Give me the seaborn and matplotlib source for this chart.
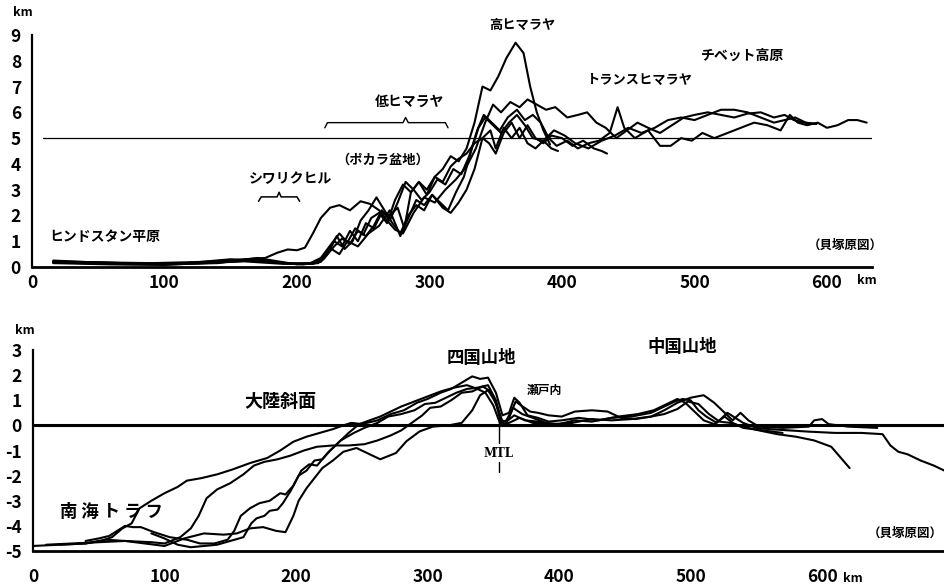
import matplotlib
matplotlib.use("Agg")
import matplotlib.pyplot as plt
import pandas as pd
import seaborn as sns

# Himalaya cross-sections (distance km, elevation km)
himalaya_a = [(16, 0.2), (50, 0.18), (90, 0.12), (130, 0.15), (160, 0.22), (190, 0.12), (210, 0.15),
              (218, 0.35), (226, 0.9), (232, 1.3), (238, 0.95), (244, 1.5), (250, 1.25), (256, 1.9),
              (262, 2.1), (268, 1.7), (274, 2.6), (280, 3.2), (286, 2.9), (292, 3.3), (298, 2.8),
              (304, 3.5), (310, 3.8), (316, 4.3), (322, 4.1), (328, 4.6), (334, 5.6), (340, 7.0),
              (346, 6.85), (352, 7.4), (358, 8.1), (365, 8.7), (371, 8.3), (376, 7.0), (381, 6.0),
              (386, 5.3), (391, 4.75)]
himalaya_b = [(16, 0.22), (50, 0.18), (90, 0.15), (130, 0.2), (160, 0.3), (176, 0.35), (185, 0.55),
              (193, 0.68), (200, 0.65), (206, 0.75), (212, 1.3), (218, 1.9), (225, 2.3), (232, 2.4),
              (240, 2.2), (248, 2.55), (255, 2.45), (262, 2.2), (268, 1.8), (274, 1.45), (280, 1.3),
              (288, 2.1), (296, 2.7), (304, 2.5), (312, 3.0), (320, 3.4), (328, 3.9), (335, 4.6),
              (342, 5.6), (348, 6.3), (354, 6.0), (361, 6.4), (368, 6.2), (374, 6.5), (381, 6.3),
              (388, 6.1), (395, 6.2), (404, 5.8), (412, 5.9), (419, 6.0), (426, 5.6), (433, 5.4),
              (441, 5.0), (449, 5.3), (457, 5.6), (465, 5.4), (474, 5.2), (483, 5.5), (492, 5.8),
              (500, 5.9), (510, 6.0), (520, 5.9), (530, 5.8), (540, 5.95), (550, 6.0), (560, 5.8),
              (568, 5.9), (575, 5.7), (583, 5.6), (592, 5.55)]
himalaya_c = [(16, 0.15), (60, 0.1), (100, 0.08), (140, 0.18), (165, 0.25), (190, 0.15), (212, 0.12),
              (220, 0.3), (228, 0.8), (234, 1.1), (240, 0.9), (246, 1.4), (252, 1.2), (258, 1.6),
              (264, 2.2), (270, 1.8), (276, 2.5), (282, 3.3), (288, 3.0), (294, 2.6), (300, 2.9),
              (306, 3.4), (312, 3.2), (318, 3.8), (324, 3.6), (330, 4.3), (336, 5.3), (341, 5.9),
              (347, 5.6), (353, 5.3), (359, 5.8), (366, 6.1), (372, 5.7), (378, 5.9), (384, 5.6),
              (390, 5.0), (396, 4.7), (404, 4.9), (412, 4.6), (420, 4.8), (428, 4.9), (436, 5.2),
              (442, 6.2), (447, 5.4), (455, 5.0), (465, 5.3), (474, 4.7), (482, 4.7), (490, 5.0),
              (498, 4.9), (506, 5.2), (515, 5.0), (525, 5.2), (535, 5.4), (545, 5.6), (555, 5.5),
              (565, 5.3), (572, 5.9), (578, 5.6), (585, 5.5), (593, 5.6), (600, 5.4), (608, 5.5),
              (616, 5.7), (623, 5.7), (630, 5.6)]
himalaya_d = [(16, 0.25), (60, 0.15), (100, 0.12), (140, 0.2), (170, 0.3), (195, 0.12), (214, 0.15),
              (222, 0.5), (228, 1.0), (234, 0.8), (240, 1.4), (246, 1.0), (252, 1.7), (258, 1.5),
              (264, 2.1), (270, 2.0), (276, 2.3), (281, 1.5), (286, 2.9), (292, 3.3), (298, 3.0),
              (304, 3.5), (310, 3.3), (316, 3.9), (322, 4.2), (328, 4.4), (334, 4.8), (340, 5.0),
              (345, 4.8), (350, 4.4), (356, 5.2), (362, 5.6), (368, 5.0), (374, 5.5), (380, 5.0),
              (386, 4.8), (392, 5.1), (400, 5.0), (408, 4.7), (416, 4.9), (424, 4.6), (430, 4.5),
              (434, 4.4)]
himalaya_e = [(16, 0.18), (60, 0.12), (100, 0.1), (140, 0.15), (170, 0.35), (200, 0.1), (216, 0.15),
              (224, 0.6), (230, 1.2), (236, 0.7), (242, 1.0), (248, 1.8), (254, 2.2), (260, 2.7),
              (266, 2.2), (272, 1.7), (278, 1.3), (284, 2.0), (290, 2.4), (296, 2.2), (302, 2.8),
              (308, 2.5), (314, 2.2), (320, 2.9), (326, 3.5), (332, 4.6), (337, 5.4), (342, 5.8),
              (348, 5.5), (354, 5.2), (360, 5.6), (366, 5.9), (372, 5.5), (378, 5.0), (386, 4.9),
              (394, 5.3), (402, 5.1), (410, 4.8), (420, 4.6), (430, 4.9), (440, 5.1), (450, 5.4),
              (460, 5.2), (470, 5.4), (480, 5.7), (490, 5.8), (500, 5.7), (510, 5.9), (520, 6.1),
              (530, 6.1), (540, 6.0), (550, 5.8), (560, 5.6), (568, 5.7), (576, 5.8), (584, 5.6),
              (592, 5.55)]
himalaya_f = [(16, 0.2), (70, 0.15), (110, 0.12), (150, 0.3), (180, 0.2), (205, 0.1), (218, 0.2),
              (226, 0.7), (232, 0.5), (238, 1.0), (246, 0.8), (254, 1.3), (262, 1.6), (270, 2.2),
              (278, 1.2), (284, 1.9), (290, 2.6), (296, 2.4), (302, 2.8), (310, 2.3), (316, 2.1),
              (322, 2.5), (328, 3.0), (334, 3.8), (340, 5.0), (346, 5.3), (350, 4.6), (356, 5.4),
              (362, 5.0), (368, 5.4), (374, 4.8), (380, 4.6), (386, 4.9), (392, 4.6), (397, 4.5)]

# Shikoku / Chugoku cross-sections
japan_a = [(0, -4.8), (20, -4.75), (40, -4.7), (52, -4.6), (60, -4.45), (68, -4.1), (75, -3.9),
           (81, -3.3), (90, -3.0), (100, -2.7), (110, -2.45), (117, -2.2), (128, -2.1), (140, -1.95),
           (152, -1.75), (165, -1.5), (178, -1.3), (188, -1.0), (198, -0.65), (208, -0.45),
           (218, -0.3), (228, -0.15), (236, 0.0), (242, 0.1), (250, 0.05), (262, 0.2), (272, 0.45),
           (282, 0.6), (292, 0.9), (300, 1.05), (310, 1.3), (318, 1.45), (326, 1.7), (334, 1.95),
           (340, 1.85), (346, 1.9), (352, 1.3), (357, 0.4), (362, 0.5), (366, 1.1), (370, 0.9),
           (376, 0.4), (384, 0.3), (392, 0.15), (402, 0.2), (415, 0.3), (430, 0.2), (445, 0.35),
           (460, 0.45), (472, 0.6), (482, 0.85), (490, 1.05), (496, 0.9), (502, 0.6), (510, 0.2),
           (518, 0.05), (526, 0.35), (532, 0.1), (540, -0.1), (555, -0.2), (570, -0.3)]
japan_b = [(40, -4.6), (50, -4.5), (58, -4.4), (64, -4.2), (70, -4.0), (76, -4.05), (82, -4.05),
           (92, -4.25), (104, -4.45), (117, -4.55), (127, -4.7), (138, -4.7), (148, -4.55),
           (153, -4.2), (158, -3.6), (165, -3.3), (172, -3.1), (180, -3.0), (188, -2.7), (192, -2.75),
           (198, -2.4), (204, -1.8), (210, -1.55), (216, -1.6), (224, -1.1), (232, -0.7), (240, -0.3),
           (248, 0.05), (256, 0.2), (264, 0.35), (272, 0.55), (280, 0.75), (290, 0.95), (300, 1.15),
           (310, 1.35), (320, 1.5), (330, 1.6), (338, 1.45), (344, 1.3), (350, 0.8), (355, 0.1),
           (360, 0.2), (365, 0.7), (372, 0.45), (380, 0.3), (390, 0.1), (400, 0.05), (412, 0.2),
           (425, 0.15), (440, 0.3), (455, 0.35), (470, 0.5), (480, 0.75), (488, 0.95), (494, 1.05),
           (500, 1.0), (506, 0.6), (512, 0.35), (520, 0.1), (528, 0.5), (534, 0.3), (540, 0.1),
           (550, -0.1), (560, -0.15), (575, -0.2), (590, -0.25), (610, -0.3), (630, -0.3),
           (646, -0.35), (652, -0.8), (658, -1.05), (665, -1.15), (675, -1.4), (685, -1.6),
           (693, -1.8)]
japan_c = [(10, -4.75), (30, -4.7), (50, -4.65), (70, -4.6), (90, -4.65), (100, -4.7), (112, -4.45),
           (120, -4.1), (126, -3.6), (132, -2.9), (140, -2.55), (150, -2.3), (160, -1.95),
           (168, -1.6), (176, -1.45), (186, -1.35), (196, -1.2), (206, -1.0), (216, -0.85),
           (228, -0.8), (240, -0.8), (252, -0.75), (262, -0.6), (272, -0.4), (280, -0.2), (288, 0.1),
           (296, 0.4), (302, 0.7), (310, 0.75), (318, 1.0), (326, 1.3), (334, 1.35), (342, 1.55),
           (348, 1.35), (354, 0.6), (358, 0.0), (362, 0.3), (367, 0.95), (371, 0.8), (378, 0.55),
           (384, 0.5), (392, 0.4), (402, 0.35), (412, 0.55), (425, 0.6), (437, 0.55), (447, 0.3),
           (458, 0.25), (470, 0.35), (480, 0.6), (490, 0.9), (500, 1.1), (510, 1.2), (518, 0.9),
           (526, 0.5), (532, 0.2), (538, 0.5), (544, 0.2), (552, -0.05), (570, -0.1), (590, -0.05),
           (594, 0.2), (600, 0.25), (605, 0.05), (620, -0.05), (642, -0.1)]
japan_d = [(90, -4.3), (100, -4.5), (110, -4.75), (120, -4.85), (130, -4.8), (140, -4.75),
           (150, -4.6), (160, -4.45), (166, -3.9), (170, -3.7), (176, -3.6), (180, -3.4),
           (186, -3.35), (190, -3.1), (196, -2.6), (202, -2.0), (208, -1.8), (214, -1.4),
           (220, -1.35), (226, -1.0), (234, -0.6), (244, -0.3), (252, -0.1), (262, 0.1), (270, 0.35),
           (280, 0.45), (290, 0.6), (298, 0.85), (306, 0.9), (314, 1.1), (322, 1.3), (330, 1.45),
           (338, 1.5), (346, 1.6), (352, 1.0), (356, 0.2), (360, 0.15), (366, 0.4), (374, 0.2),
           (384, 0.15), (396, 0.0), (410, 0.1), (425, 0.25), (440, 0.2), (455, 0.25), (470, 0.35),
           (480, 0.45), (490, 0.65), (498, 0.95), (506, 0.85), (514, 0.45), (522, 0.15), (530, 0.1),
           (540, -0.05), (552, -0.2), (566, -0.35), (580, -0.45), (594, -0.6), (607, -0.85),
           (621, -1.7)]
japan_e = [(20, -4.75), (40, -4.7), (55, -4.55), (70, -4.6), (85, -4.7), (100, -4.8), (115, -4.5),
           (130, -4.3), (145, -4.35), (155, -4.3), (165, -4.1), (175, -4.05), (185, -4.2),
           (192, -4.25), (198, -3.6), (202, -3.0), (208, -2.5), (214, -2.1), (220, -1.7),
           (228, -1.4), (236, -1.05), (246, -0.9), (254, -1.1), (264, -1.35), (276, -1.1),
           (284, -0.63), (294, -0.24), (304, -0.05), (316, 0.0), (326, 0.1), (334, 0.6), (340, 1.2),
           (346, 1.4), (352, 0.9), (356, 0.05), (362, 0.1), (370, 0.3), (380, 0.1), (395, 0.05),
           (410, 0.1)]

himalaya = {"a": himalaya_a, "b": himalaya_b, "c": himalaya_c,
            "d": himalaya_d, "e": himalaya_e, "f": himalaya_f}
japan = {"a": japan_a, "b": japan_b, "c": japan_c, "d": japan_d, "e": japan_e}

top_ticks_y = list(range(0, 10))
bottom_ticks_y = list(range(-5, 4))
ticks_x = [0, 100, 200, 300, 400, 500, 600]


def to_frame(profiles):
    rows = []
    for name, pts in profiles.items():
        for km, elev in pts:
            rows.append({"profile": name, "km": km, "elev": elev})
    return pd.DataFrame(rows)


sns.set_theme(style="white")
plt.rcParams["font.family"] = ["Noto Sans CJK JP", "DejaVu Sans"]
plt.rcParams["font.weight"] = "bold"

fig = plt.figure(figsize=(9.45, 5.86), dpi=100)
W, H = 945, 586
ax1 = fig.add_axes([32 / W, 1 - 267 / H, (872 - 32) / W, (267 - 35) / H])
ax2 = fig.add_axes([33 / W, 1 - 551 / H, (945 - 33) / W, (551 - 350) / H])

for ax, profiles in ((ax1, himalaya), (ax2, japan)):
    sns.lineplot(data=to_frame(profiles), x="km", y="elev", units="profile", estimator=None,
                 sort=False, color="black", lw=1.5, ax=ax)

# reference lines
ax1.plot([8, 636], [5, 5], color="black", lw=0.9)
ax2.plot([0, 693.5], [0, 0], color="black", lw=2.2)

ax1.set_xlim(0, 634)
ax1.set_ylim(0, 9)
ax2.set_xlim(0, 693.5)
ax2.set_ylim(-5, 3)

for ax, yt in ((ax1, top_ticks_y), (ax2, bottom_ticks_y)):
    ax.set_xticks(ticks_x)
    ax.set_yticks(yt)
    ax.set_yticklabels([str(v) for v in yt])
    ax.set_xlabel("")
    ax.set_ylabel("")
    ax.spines["top"].set_visible(False)
    ax.spines["right"].set_visible(False)
    ax.spines["left"].set_linewidth(1.6)
    ax.spines["bottom"].set_linewidth(2.0)
    ax.spines["left"].set_color("black")
    ax.spines["bottom"].set_color("black")
    ax.tick_params(axis="both", direction="in", length=4, width=1.3, color="black",
                   labelsize=12.5, labelcolor="black")
    ax.tick_params(axis="y", pad=8)
    for lab in ax.get_xticklabels() + ax.get_yticklabels():
        lab.set_fontweight("bold")
    ax.patch.set_alpha(0)
ax1.tick_params(axis="x", pad=5)
ax2.tick_params(axis="x", pad=12)

jp = dict(color="black", fontweight="bold", ha="center", va="center")

# top labels
ax1.text(55, 1.15, "ヒンドスタン平原", fontsize=10, **jp)
ax1.text(195, 3.4, "シワリクヒル", fontsize=10, **jp)
ax1.text(265, 4.15, "（ポカラ盆地）", fontsize=9.5, **jp)
ax1.text(285, 6.4, "低ヒマラヤ", fontsize=10, **jp)
ax1.text(370, 9.4, "高ヒマラヤ", fontsize=9.5, clip_on=False, **jp)
ax1.text(459, 7.25, "トランスヒマラヤ", fontsize=9.5, **jp)
ax1.text(536, 8.2, "チベット高原", fontsize=10, **jp)
ax1.text(614, 0.85, "（貝塚原図）", fontsize=9, **jp)

# braces
ax1.plot([171, 173, 185, 186.5, 188, 200, 202], [2.55, 2.72, 2.72, 2.9, 2.72, 2.72, 2.55],
         color="black", lw=1.1)
ax1.plot([221, 223, 280, 282, 284, 312, 314], [5.4, 5.6, 5.6, 5.8, 5.6, 5.6, 5.4],
         color="black", lw=1.0)

# bottom labels
ax2.text(341, 2.7, "四国山地", fontsize=12.5, **jp)
ax2.text(389, 1.4, "瀬戸内", fontsize=8.5, **jp)
ax2.text(494, 3.1, "中国山地", fontsize=12.5, clip_on=False, **jp)
ax2.text(188, 0.95, "大陸斜面", fontsize=13, **jp)
ax2.text(60, -3.45, "南 海 ト ラ フ", fontsize=12.5, **jp)
ax2.text(663, -4.3, "（貝塚原図）", fontsize=9, **jp)
ax2.text(354, -1.12, "MTL", fontsize=8.5, family="DejaVu Serif", color="black",
         ha="center", va="center")
ax2.plot([354, 354], [0.3, -0.7], color="black", lw=1.0)
ax2.plot([354, 354], [-1.45, -1.85], color="black", lw=1.0)

# unit labels
fig.text(23 / W, 1 - 13 / H, "km", fontsize=9, **jp)
fig.text(867 / W, 1 - 281 / H, "km", fontsize=9, **jp)
fig.text(25 / W, 1 - 330 / H, "km", fontsize=9, **jp)
fig.text(853 / W, 1 - 578 / H, "km", fontsize=9, **jp)

fig.savefig("out.png", dpi=100, facecolor="white")
